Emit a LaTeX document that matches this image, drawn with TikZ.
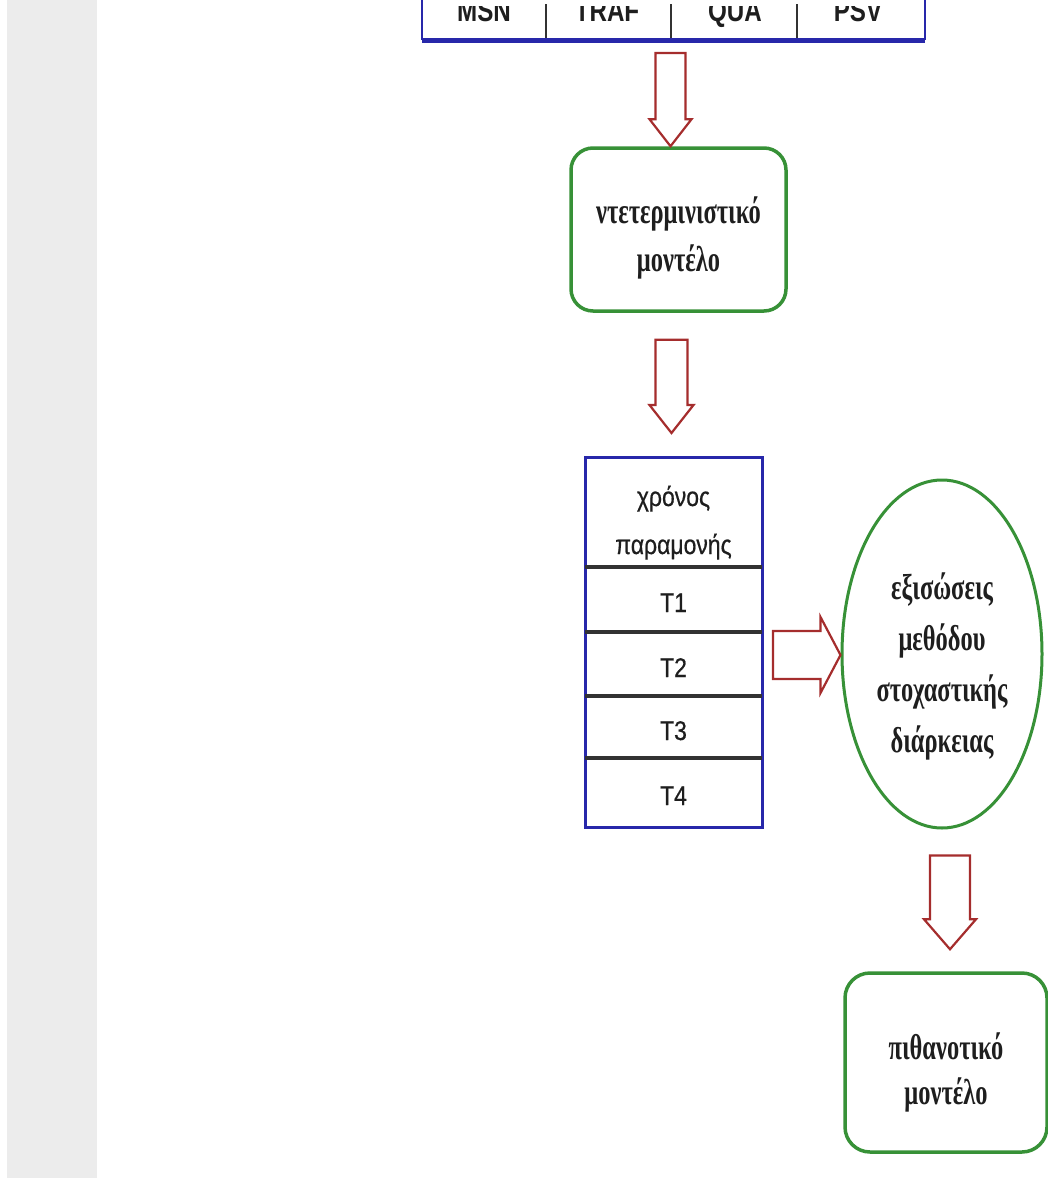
\documentclass[tikz,border=0pt]{standalone}
\usepackage{fontspec}
\setmainfont{Liberation Serif}
\newfontfamily\grserif{Liberation Serif}[FakeStretch=0.68]
\newfontfamily\cellsans{Liberation Sans}[FakeStretch=0.85,FakeBold=0.6]
\newfontfamily\headsans{Liberation Sans}[FakeStretch=0.78]
\usetikzlibrary{calc,shapes.geometric}

\definecolor{framegreen}{RGB}{55,145,55}
\definecolor{frameblue}{RGB}{40,40,170}
\definecolor{arrowred}{RGB}{165,45,45}
\definecolor{stripgray}{RGB}{236,236,236}
\definecolor{inkgray}{RGB}{30,30,30}
\definecolor{rulegray}{RGB}{50,50,50}

\tikzset{
  modelbox/.style={draw=framegreen, line width=3.5pt, rounded corners=22pt,
    inner sep=0pt},
  modeltext/.style={align=center, inner sep=0pt, text=inkgray,
    font=\grserif\bfseries\fontsize{36}{48}\selectfont},
  methodtext/.style={align=center, inner sep=0pt, text=inkgray,
    font=\grserif\bfseries\fontsize{36}{51}\selectfont},
  cellbox/.style={minimum width=177pt, inner sep=0pt, outer sep=0pt},
  celltext/.style={anchor=base, inner sep=0pt, text=inkgray,
    font=\cellsans\fontsize{27}{30}\selectfont},
  toplabel/.style={anchor=base, inner sep=0pt, text=inkgray,
    font=\headsans\bfseries\fontsize{31}{31}\selectfont},
  tableframe/.style={draw=frameblue, line width=3pt},
  rowrule/.style={draw=rulegray, line width=3.5pt},
  colrule/.style={draw=rulegray, line width=1.5pt},
  blockarrow/.style={draw=arrowred, line width=2.2pt, fill=white, line join=miter}
}

% hollow block arrow pointing down: start point, tip point, shaft half width,
% head half width, head length (x position taken from the start point)
\newcommand\arrowdown[5]{%
  \path[blockarrow] let \p1=(#1), \p2=(#2) in
    ({\x1-#3pt},\y1) -- ({\x1+#3pt},\y1) -- ({\x1+#3pt},{\y2+#5pt})
    -- ({\x1+#4pt},{\y2+#5pt}) -- (\x1,\y2) -- ({\x1-#4pt},{\y2+#5pt})
    -- ({\x1-#3pt},{\y2+#5pt}) -- cycle;}
% hollow block arrow pointing right (y position taken from the start point)
\newcommand\arrowright[5]{%
  \path[blockarrow] let \p1=(#1), \p2=(#2) in
    (\x1,{\y1+#3pt}) -- ({\x2-#5pt},{\y1+#3pt}) -- ({\x2-#5pt},{\y1+#4pt})
    -- (\x2,\y1) -- ({\x2-#5pt},{\y1-#4pt}) -- ({\x2-#5pt},{\y1-#3pt})
    -- (\x1,{\y1-#3pt}) -- cycle;}

\begin{document}
\begin{tikzpicture}[x=1pt,y=-1pt]
\useasboundingbox (0,0) rectangle (1048,1178);
\clip (0,0) rectangle (1048,1178);
\fill[stripgray] (7,0) rectangle (97,1178);

% header row of the parameter table
\node[minimum width=503pt, minimum height=44pt, inner sep=0pt, outer sep=0pt]
  (topbar) at (673.5,18) {};
\draw[frameblue, line width=2.5pt] (topbar.north west) -- (topbar.south west);
\draw[frameblue, line width=2.5pt] (topbar.north east) -- (topbar.south east);
\draw[colrule] (546,4) -- (546,38);
\draw[colrule] (671,4) -- (671,38);
\draw[colrule] (797,4) -- (797,38);
\begin{scope}
  \clip (420,6) rectangle (930,40);
  \node[toplabel] (msn)  at (484,21) {MSN};
  \node[toplabel] (traf) at (607,21) {TRAF};
  \node[toplabel] (qua)  at (735,21) {QUA};
  \node[toplabel] (psv)  at (858,21) {PSV};
\end{scope}
\draw[frameblue, line width=5pt] (topbar.south west) -- (topbar.south east);

% deterministic model
\node[modelbox, minimum width=215pt, minimum height=163pt] (box1) at (678.5,229.5) {};
\node[modeltext] (box1text) at (678.5,238) {ντετερμινιστικό\\μοντέλο};

% residence time table
\node[cellbox, minimum height=110pt] (hdr) at (673.5,512) {};
\node[cellbox, minimum height=65pt] (t1) at (673.5,599.5) {};
\node[cellbox, minimum height=64pt] (t2) at (673.5,664) {};
\node[cellbox, minimum height=62pt] (t3) at (673.5,727) {};
\node[cellbox, minimum height=69pt] (t4) at (673.5,792.5) {};
\draw[tableframe] (hdr.north west) rectangle (t4.south east);
\foreach \r in {hdr,t1,t2,t3} \draw[rowrule] (\r.south west) -- (\r.south east);
\node[celltext] (hdra) at (673.5,506) {χρόνος};
\node[celltext] (hdrb) at (673.5,554) {παραμονής};
\node[celltext] (lt1) at (673.5,612) {T1};
\node[celltext] (lt2) at (673.5,677) {T2};
\node[celltext] (lt3) at (673.5,740) {T3};
\node[celltext] (lt4) at (673.5,805) {T4};

% stochastic duration method
\node[ellipse, draw=framegreen, line width=3pt, minimum width=200pt,
  minimum height=348pt, inner sep=0pt] (ell) at (942,654) {};
\node[methodtext] (elltext) at (942,666)
  {εξισώσεις\\μεθόδου\\στοχαστικής\\διάρκειας};

% probabilistic model
\node[modelbox, rounded corners=25pt, minimum width=202pt, minimum height=179pt]
  (box2) at (946,1062.5) {};
\node[modeltext, font=\grserif\bfseries\fontsize{36}{45}\selectfont] (box2text)
  at (946,1072) {πιθανοτικό\\μοντέλο};

% flow arrows
\arrowdown{$(topbar.south)+(-3,13)$}{box1.north}{15}{21}{27}
\arrowdown{$(box1.south)+(-7,27)$}{$(hdr.north)+(0,-24)$}{16}{22}{28}
\arrowright{$(t2.east)+(11,-9)$}{ell.west}{24}{38}{20}
\arrowdown{$(ell.south)+(8,26)$}{$(box2.north)+(0,-22)$}{20}{26}{30}
\end{tikzpicture}
\end{document}
